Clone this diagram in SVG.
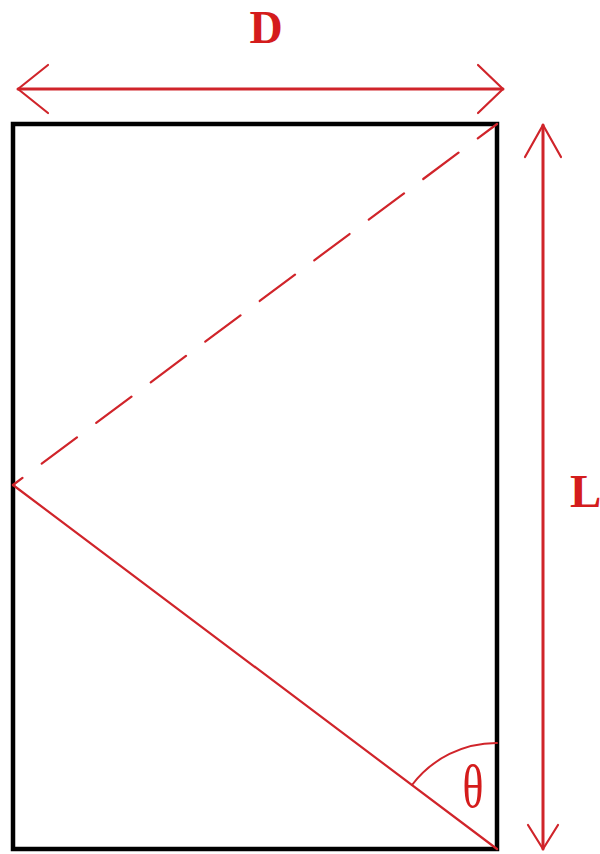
<svg xmlns="http://www.w3.org/2000/svg" width="600" height="854" viewBox="0 0 600 854">
<style>
.red{stroke:#d0242a;fill:none;stroke-linecap:round;stroke-linejoin:round}
.lbl{font-family:"Liberation Serif",serif;fill:#d41c1c}
</style>
<rect width="600" height="854" fill="#fff"/>
<g id="box"><rect x="13" y="124" width="484" height="725" fill="none" stroke="#000" stroke-width="4.5"/></g>
<g id="connectors">
<line class="red" x1="497" y1="124" x2="13" y2="485" stroke-width="2.2" stroke-dasharray="44 24" stroke-dashoffset="20" stroke-linecap="butt"/>
<line class="red" x1="13" y1="485" x2="497" y2="849" stroke-width="2.2"/>
<path class="red" d="M412,785 A106,106 0 0 1 497,743" stroke-width="2"/>
<g id="dimD">
<line class="red" x1="18" y1="89" x2="503" y2="89" stroke-width="3"/>
<path class="red" d="M48,65 L18,89 L48,113" stroke-width="2.2"/>
<path class="red" d="M478,65 L503,89 L478,113" stroke-width="2.2"/>
</g>
<g id="dimL">
<line class="red" x1="543" y1="125" x2="543" y2="849" stroke-width="3"/>
<path class="red" d="M525,157 L543,125 L561,157" stroke-width="2.2"/>
<path class="red" d="M528,825 L543,849 L558,825" stroke-width="2.2"/>
</g>
</g>
<g id="labels">
<text class="lbl" x="266" y="43" font-size="46" font-weight="bold" text-anchor="middle">D</text>
<text class="lbl" x="570" y="507" font-size="47" font-weight="bold">L</text>
<text class="lbl" transform="translate(473,807) scale(0.95,1.35)" font-size="46" text-anchor="middle">θ</text>
</g>
</svg>
